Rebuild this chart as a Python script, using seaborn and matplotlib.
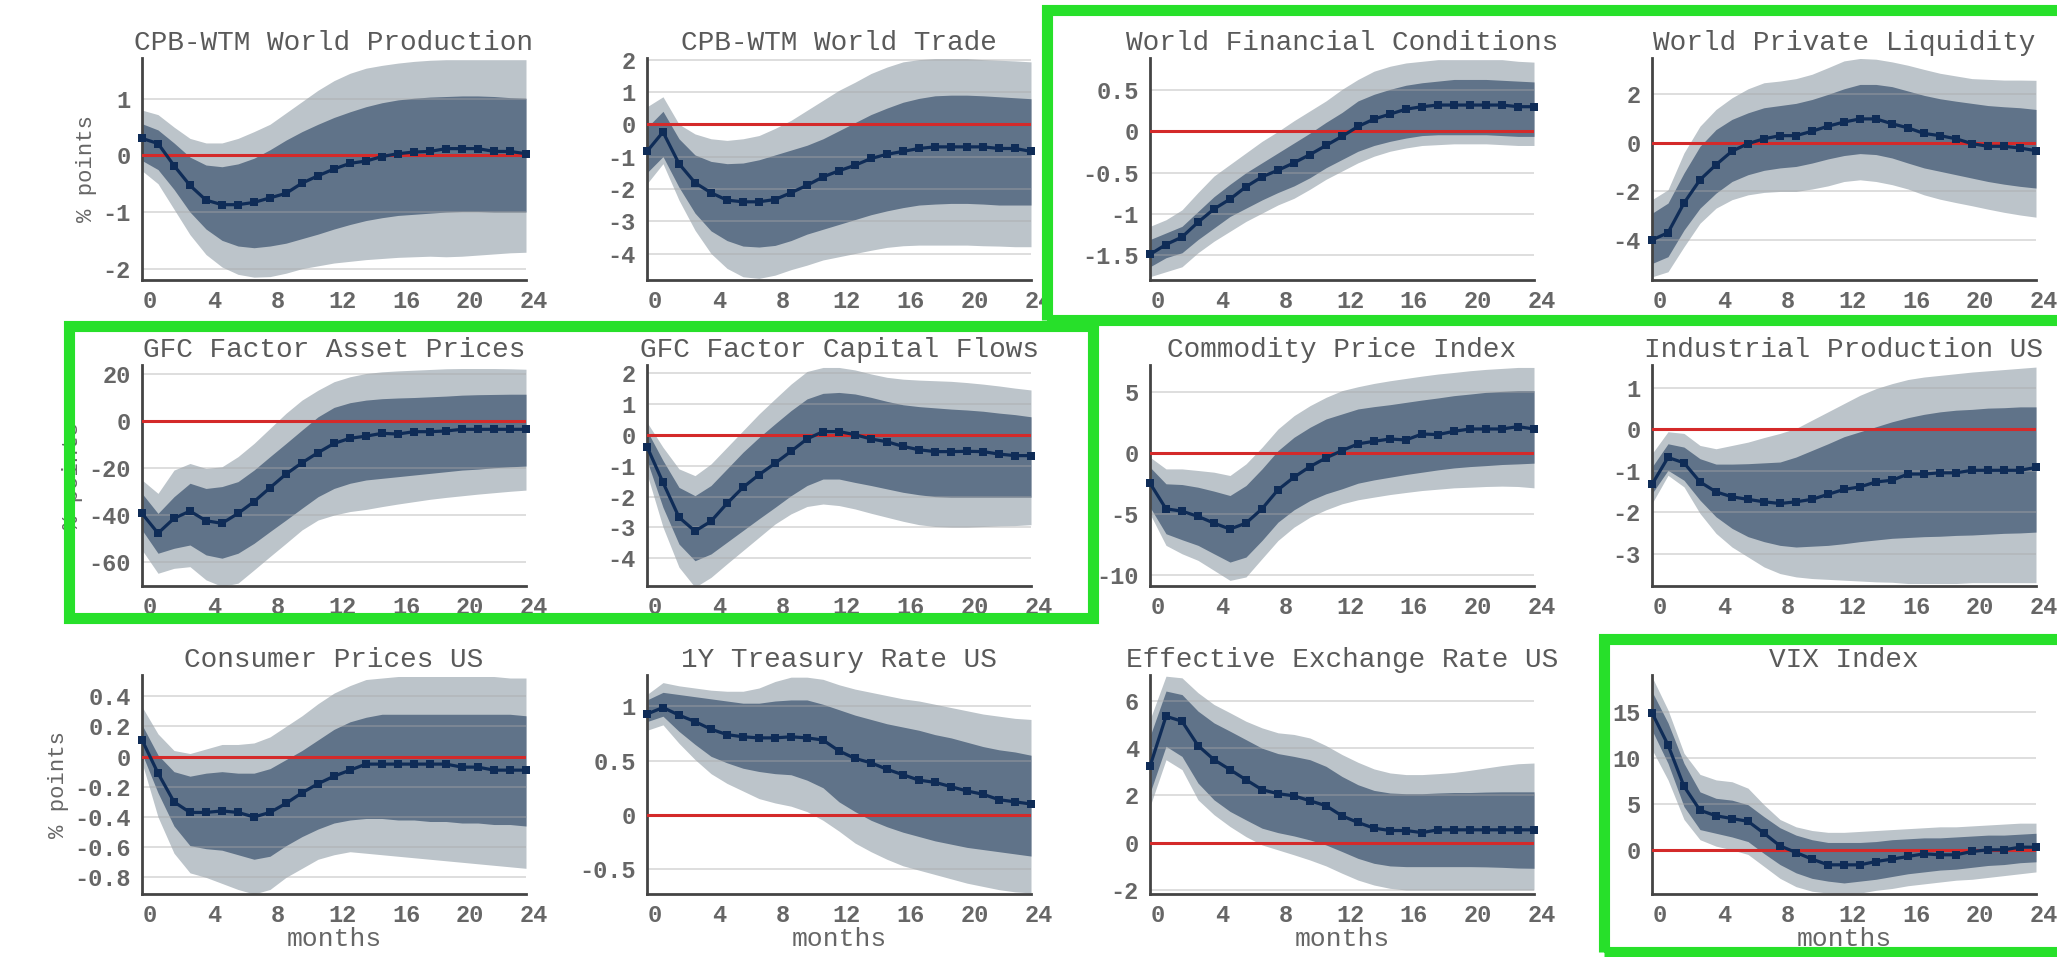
import matplotlib
matplotlib.use("Agg")
import matplotlib.pyplot as plt
from matplotlib.patches import Rectangle
from matplotlib.ticker import FuncFormatter, FixedLocator
from matplotlib.transforms import ScaledTranslation
import seaborn as sns

# ---------------------------------------------------------------------------
# Impulse responses (median, 68% and 90% credible bands), horizon 0..24 months
# ---------------------------------------------------------------------------
months = list(range(25))
month_ticks = [0, 4, 8, 12, 16, 20, 24]

# CPB-WTM World Production
wprod_med = [0.30, 0.21, -0.18, -0.53, -0.79, -0.87, -0.87, -0.83, -0.75, -0.67, -0.49, -0.36, -0.24, -0.14, -0.10, -0.02, 0.03, 0.06, 0.07, 0.12, 0.12, 0.12, 0.07, 0.07, 0.03]
wprod_hi68 = [0.56, 0.45, 0.22, -0.03, -0.17, -0.20, -0.15, -0.05, 0.10, 0.27, 0.42, 0.55, 0.67, 0.77, 0.86, 0.93, 0.98, 1.01, 1.03, 1.04, 1.05, 1.05, 1.04, 1.02, 1.01]
wprod_lo68 = [-0.09, -0.25, -0.60, -1.00, -1.30, -1.50, -1.60, -1.63, -1.60, -1.55, -1.47, -1.39, -1.30, -1.22, -1.15, -1.10, -1.06, -1.04, -1.02, -1.00, -0.99, -0.99, -1.00, -1.00, -1.00]
wprod_hi90 = [0.80, 0.72, 0.50, 0.30, 0.22, 0.22, 0.30, 0.42, 0.55, 0.75, 0.95, 1.15, 1.32, 1.45, 1.54, 1.59, 1.63, 1.66, 1.68, 1.69, 1.69, 1.69, 1.69, 1.69, 1.69]
wprod_lo90 = [-0.27, -0.50, -0.95, -1.40, -1.75, -1.97, -2.10, -2.15, -2.14, -2.08, -2.00, -1.95, -1.90, -1.87, -1.84, -1.82, -1.80, -1.79, -1.78, -1.79, -1.78, -1.76, -1.74, -1.72, -1.71]

# CPB-WTM World Trade
wtrade_med = [-0.84, -0.24, -1.22, -1.81, -2.12, -2.35, -2.40, -2.40, -2.33, -2.12, -1.89, -1.63, -1.44, -1.27, -1.06, -0.93, -0.84, -0.75, -0.70, -0.70, -0.70, -0.70, -0.75, -0.75, -0.84]
wtrade_hi68 = [-0.10, 0.40, -0.45, -0.95, -1.15, -1.22, -1.20, -1.10, -0.95, -0.80, -0.65, -0.45, -0.20, 0.05, 0.30, 0.50, 0.68, 0.80, 0.88, 0.90, 0.90, 0.88, 0.85, 0.82, 0.79]
wtrade_lo68 = [-1.50, -1.00, -1.95, -2.75, -3.30, -3.60, -3.77, -3.80, -3.75, -3.60, -3.40, -3.25, -3.10, -2.95, -2.80, -2.68, -2.58, -2.50, -2.47, -2.45, -2.45, -2.47, -2.50, -2.50, -2.50]
wtrade_hi90 = [0.54, 0.85, 0.00, -0.30, -0.45, -0.50, -0.45, -0.35, -0.13, 0.12, 0.43, 0.74, 1.05, 1.30, 1.57, 1.77, 1.93, 2.00, 2.03, 2.03, 2.03, 2.00, 1.98, 1.96, 1.93]
wtrade_lo90 = [-1.84, -1.22, -2.35, -3.28, -4.00, -4.46, -4.72, -4.77, -4.67, -4.50, -4.36, -4.20, -4.10, -4.00, -3.90, -3.81, -3.76, -3.74, -3.74, -3.74, -3.74, -3.76, -3.77, -3.79, -3.79]

# World Financial Conditions
wfc_med = [-1.49, -1.37, -1.28, -1.10, -0.94, -0.82, -0.67, -0.55, -0.47, -0.38, -0.28, -0.17, -0.06, 0.06, 0.15, 0.21, 0.27, 0.30, 0.32, 0.32, 0.32, 0.32, 0.32, 0.30, 0.30]
wfc_hi68 = [-1.31, -1.23, -1.15, -0.97, -0.79, -0.64, -0.50, -0.38, -0.26, -0.14, -0.02, 0.11, 0.23, 0.37, 0.45, 0.51, 0.56, 0.59, 0.61, 0.63, 0.63, 0.63, 0.62, 0.61, 0.60]
wfc_lo68 = [-1.64, -1.53, -1.47, -1.31, -1.17, -1.03, -0.93, -0.83, -0.74, -0.66, -0.56, -0.44, -0.34, -0.24, -0.17, -0.12, -0.08, -0.05, -0.04, -0.04, -0.04, -0.04, -0.05, -0.06, -0.06]
wfc_hi90 = [-1.15, -1.07, -0.95, -0.74, -0.54, -0.40, -0.26, -0.12, 0.00, 0.13, 0.25, 0.37, 0.51, 0.63, 0.73, 0.79, 0.83, 0.85, 0.87, 0.87, 0.87, 0.87, 0.87, 0.85, 0.84]
wfc_lo90 = [-1.76, -1.70, -1.64, -1.47, -1.33, -1.21, -1.09, -0.99, -0.89, -0.81, -0.70, -0.58, -0.48, -0.38, -0.30, -0.24, -0.20, -0.17, -0.16, -0.15, -0.15, -0.15, -0.16, -0.17, -0.17]

# World Private Liquidity
wpl_med = [-4.00, -3.70, -2.48, -1.52, -0.90, -0.34, -0.03, 0.17, 0.30, 0.30, 0.48, 0.69, 0.86, 0.99, 0.99, 0.79, 0.62, 0.39, 0.30, 0.17, -0.03, -0.14, -0.14, -0.21, -0.32]
wpl_hi68 = [-2.90, -2.48, -1.24, -0.14, 0.55, 0.97, 1.24, 1.45, 1.54, 1.63, 1.79, 2.00, 2.23, 2.41, 2.41, 2.32, 2.14, 1.96, 1.82, 1.72, 1.63, 1.54, 1.49, 1.45, 1.38]
wpl_lo68 = [-4.97, -4.69, -3.59, -2.69, -2.07, -1.59, -1.31, -1.13, -1.03, -0.97, -0.83, -0.66, -0.52, -0.44, -0.48, -0.62, -0.83, -1.03, -1.17, -1.31, -1.45, -1.59, -1.70, -1.79, -1.86]
wpl_hi90 = [-2.34, -1.93, -0.41, 0.69, 1.38, 1.86, 2.23, 2.48, 2.55, 2.65, 2.83, 3.10, 3.38, 3.48, 3.45, 3.34, 3.20, 3.03, 2.87, 2.76, 2.65, 2.62, 2.59, 2.59, 2.58]
wpl_lo90 = [-5.52, -5.31, -4.28, -3.31, -2.69, -2.34, -2.14, -2.04, -2.00, -2.00, -1.90, -1.77, -1.59, -1.52, -1.59, -1.72, -1.90, -2.14, -2.32, -2.46, -2.59, -2.73, -2.86, -2.97, -3.06]

# GFC Factor Asset Prices
gfca_med = [-39.2, -47.6, -41.3, -38.2, -42.3, -43.4, -39.2, -34.2, -28.3, -22.5, -17.7, -13.4, -9.5, -7.3, -6.4, -5.2, -5.5, -4.5, -4.5, -4.2, -3.5, -3.5, -3.5, -3.5, -3.5]
gfca_hi68 = [-30.7, -39.2, -32.1, -26.4, -28.6, -27.8, -25.7, -20.8, -15.1, -9.5, -3.8, 1.8, 5.8, 7.8, 8.9, 9.5, 9.8, 10.0, 10.3, 10.6, 11.0, 11.2, 11.3, 11.4, 11.4]
gfca_lo68 = [-46.2, -56.1, -54.0, -52.6, -56.8, -58.2, -56.1, -51.9, -46.9, -42.0, -37.0, -32.1, -28.6, -26.4, -25.0, -24.3, -23.6, -22.9, -22.2, -21.5, -20.8, -20.4, -19.8, -19.4, -19.1]
gfca_hi90 = [-25.0, -30.7, -20.8, -18.0, -20.1, -19.4, -15.1, -9.5, -3.1, 3.3, 8.9, 13.1, 16.7, 18.8, 20.2, 20.9, 21.3, 21.6, 21.9, 22.2, 22.3, 22.3, 22.3, 22.2, 22.0]
gfca_lo90 = [-54.7, -64.6, -62.5, -61.8, -67.4, -70.2, -68.8, -63.2, -57.5, -51.9, -46.2, -42.0, -39.9, -38.4, -37.5, -36.3, -35.2, -34.2, -33.2, -32.4, -31.7, -31.0, -30.4, -29.8, -29.3]

# GFC Factor Capital Flows
gfcc_med = [-0.38, -1.54, -2.67, -3.12, -2.80, -2.22, -1.70, -1.29, -0.92, -0.53, -0.13, 0.11, 0.11, 0.01, -0.13, -0.22, -0.37, -0.48, -0.54, -0.54, -0.53, -0.54, -0.62, -0.67, -0.67]
gfcc_hi68 = [0.14, -0.83, -1.70, -1.97, -1.64, -1.10, -0.56, -0.08, 0.36, 0.79, 1.17, 1.35, 1.38, 1.33, 1.22, 1.09, 0.98, 0.92, 0.88, 0.84, 0.81, 0.77, 0.71, 0.66, 0.59]
gfcc_lo68 = [-0.83, -2.35, -3.54, -4.08, -3.86, -3.48, -3.10, -2.72, -2.35, -1.97, -1.64, -1.43, -1.43, -1.54, -1.64, -1.75, -1.86, -1.94, -2.00, -2.02, -2.02, -2.02, -2.02, -2.02, -2.02]
gfcc_hi90 = [0.41, -0.40, -1.10, -1.32, -0.94, -0.40, 0.14, 0.68, 1.17, 1.65, 2.06, 2.19, 2.19, 2.11, 1.98, 1.87, 1.81, 1.78, 1.76, 1.74, 1.70, 1.65, 1.59, 1.52, 1.46]
gfcc_lo90 = [-1.26, -2.99, -4.29, -4.94, -4.62, -4.18, -3.75, -3.32, -2.89, -2.56, -2.32, -2.24, -2.29, -2.40, -2.54, -2.67, -2.80, -2.91, -2.97, -2.99, -2.99, -2.97, -2.95, -2.94, -2.91]

# Commodity Price Index
comm_med = [-2.48, -4.58, -4.77, -5.20, -5.75, -6.24, -5.75, -4.58, -3.02, -1.99, -1.12, -0.41, 0.19, 0.74, 0.95, 1.14, 1.06, 1.55, 1.50, 1.77, 1.96, 1.96, 1.96, 2.15, 1.96]
comm_hi68 = [-1.17, -2.53, -2.59, -2.81, -3.13, -3.49, -2.67, -1.31, 0.19, 1.28, 2.10, 2.78, 3.19, 3.60, 3.79, 3.95, 4.14, 4.33, 4.50, 4.69, 4.82, 4.96, 5.04, 5.10, 5.10]
comm_lo68 = [-4.44, -6.62, -7.11, -7.57, -8.26, -8.94, -8.53, -7.17, -5.67, -4.66, -3.90, -3.35, -2.94, -2.48, -2.21, -1.99, -1.77, -1.58, -1.39, -1.23, -1.12, -1.04, -0.95, -0.90, -0.84]
comm_hi90 = [-0.35, -1.31, -1.31, -1.44, -1.58, -1.85, -0.90, 0.46, 1.96, 3.05, 3.87, 4.55, 5.10, 5.42, 5.69, 5.91, 6.10, 6.29, 6.46, 6.59, 6.73, 6.84, 6.92, 7.00, 7.00]
comm_lo90 = [-4.99, -7.57, -8.26, -8.80, -9.62, -10.44, -10.16, -8.66, -7.17, -6.08, -5.26, -4.66, -4.17, -3.84, -3.62, -3.41, -3.24, -3.08, -2.97, -2.86, -2.81, -2.75, -2.72, -2.75, -2.86]

# Industrial Production US
ipus_med = [-1.33, -0.68, -0.81, -1.27, -1.51, -1.63, -1.69, -1.75, -1.79, -1.75, -1.69, -1.57, -1.45, -1.39, -1.27, -1.23, -1.08, -1.08, -1.05, -1.05, -0.99, -0.99, -0.99, -0.99, -0.92]
ipus_hi68 = [-0.91, -0.35, -0.43, -0.71, -0.84, -0.84, -0.83, -0.81, -0.79, -0.67, -0.51, -0.35, -0.18, -0.06, 0.06, 0.18, 0.28, 0.36, 0.42, 0.46, 0.48, 0.51, 0.52, 0.54, 0.54]
ipus_lo68 = [-1.55, -0.99, -1.23, -1.71, -2.11, -2.39, -2.59, -2.71, -2.80, -2.84, -2.82, -2.80, -2.76, -2.71, -2.67, -2.63, -2.61, -2.59, -2.58, -2.56, -2.55, -2.53, -2.51, -2.50, -2.48]
ipus_hi90 = [-0.59, -0.06, -0.10, -0.39, -0.47, -0.39, -0.31, -0.20, -0.10, 0.02, 0.22, 0.42, 0.62, 0.82, 0.98, 1.10, 1.20, 1.26, 1.30, 1.34, 1.38, 1.41, 1.44, 1.47, 1.50]
ipus_lo90 = [-1.79, -1.11, -1.39, -2.03, -2.51, -2.84, -3.08, -3.32, -3.48, -3.56, -3.60, -3.62, -3.64, -3.66, -3.68, -3.69, -3.72, -3.72, -3.72, -3.72, -3.70, -3.70, -3.70, -3.70, -3.70]

# Consumer Prices US
cpus_med = [0.11, -0.11, -0.30, -0.37, -0.37, -0.36, -0.37, -0.40, -0.37, -0.31, -0.24, -0.18, -0.13, -0.09, -0.05, -0.05, -0.05, -0.05, -0.05, -0.05, -0.07, -0.07, -0.09, -0.09, -0.09]
cpus_hi68 = [0.21, 0.01, -0.10, -0.13, -0.11, -0.10, -0.11, -0.11, -0.08, -0.02, 0.04, 0.11, 0.18, 0.23, 0.26, 0.28, 0.28, 0.28, 0.28, 0.28, 0.28, 0.28, 0.28, 0.28, 0.27]
cpus_lo68 = [0.02, -0.24, -0.46, -0.59, -0.61, -0.62, -0.65, -0.68, -0.66, -0.59, -0.53, -0.48, -0.44, -0.42, -0.41, -0.41, -0.42, -0.42, -0.43, -0.43, -0.44, -0.44, -0.45, -0.45, -0.46]
cpus_hi90 = [0.33, 0.15, 0.04, 0.02, 0.05, 0.08, 0.08, 0.09, 0.13, 0.20, 0.27, 0.35, 0.42, 0.47, 0.51, 0.52, 0.53, 0.53, 0.53, 0.53, 0.53, 0.53, 0.53, 0.52, 0.52]
cpus_lo90 = [-0.04, -0.40, -0.64, -0.77, -0.80, -0.84, -0.88, -0.91, -0.88, -0.80, -0.74, -0.68, -0.65, -0.63, -0.64, -0.65, -0.66, -0.67, -0.68, -0.69, -0.70, -0.71, -0.72, -0.73, -0.74]

# 1Y Treasury Rate US
ty1_med = [0.93, 0.99, 0.92, 0.86, 0.79, 0.74, 0.72, 0.71, 0.71, 0.72, 0.71, 0.69, 0.59, 0.52, 0.48, 0.42, 0.37, 0.32, 0.30, 0.26, 0.22, 0.19, 0.14, 0.12, 0.10]
ty1_hi68 = [1.06, 1.13, 1.11, 1.09, 1.07, 1.05, 1.03, 1.03, 1.05, 1.06, 1.06, 1.02, 0.97, 0.92, 0.88, 0.84, 0.81, 0.78, 0.74, 0.71, 0.67, 0.63, 0.60, 0.58, 0.55]
ty1_lo68 = [0.86, 0.91, 0.77, 0.65, 0.54, 0.48, 0.43, 0.40, 0.38, 0.37, 0.32, 0.25, 0.12, 0.03, -0.05, -0.11, -0.16, -0.20, -0.24, -0.27, -0.30, -0.32, -0.34, -0.36, -0.38]
ty1_hi90 = [1.11, 1.22, 1.19, 1.17, 1.15, 1.14, 1.14, 1.17, 1.23, 1.27, 1.27, 1.25, 1.20, 1.16, 1.13, 1.10, 1.07, 1.05, 1.02, 0.99, 0.96, 0.93, 0.91, 0.89, 0.88]
ty1_lo90 = [0.78, 0.83, 0.66, 0.51, 0.38, 0.29, 0.22, 0.15, 0.11, 0.08, 0.03, -0.05, -0.15, -0.26, -0.34, -0.41, -0.47, -0.51, -0.55, -0.59, -0.63, -0.66, -0.69, -0.71, -0.72]

# Effective Exchange Rate US
eer_med = [3.23, 5.35, 5.14, 4.11, 3.51, 3.09, 2.66, 2.24, 2.07, 1.98, 1.77, 1.56, 1.13, 0.85, 0.61, 0.51, 0.51, 0.42, 0.54, 0.54, 0.54, 0.54, 0.54, 0.54, 0.54]
eer_hi68 = [4.50, 6.42, 6.27, 5.57, 5.07, 4.72, 4.36, 4.00, 3.77, 3.65, 3.51, 3.23, 2.80, 2.45, 2.21, 2.10, 2.07, 2.07, 2.10, 2.12, 2.12, 2.14, 2.15, 2.15, 2.15]
eer_lo68 = [2.10, 4.08, 3.65, 2.52, 1.81, 1.32, 0.96, 0.61, 0.42, 0.28, 0.11, -0.10, -0.38, -0.67, -0.88, -0.99, -1.02, -1.02, -1.02, -1.02, -1.02, -1.03, -1.05, -1.08, -1.09]
eer_hi90 = [5.21, 7.05, 6.98, 6.35, 5.85, 5.50, 5.14, 4.86, 4.65, 4.58, 4.43, 4.11, 3.73, 3.40, 3.12, 2.95, 2.88, 2.88, 2.92, 2.97, 3.06, 3.16, 3.26, 3.34, 3.37]
eer_lo90 = [1.53, 3.51, 3.09, 1.81, 1.18, 0.68, 0.25, -0.10, -0.31, -0.52, -0.74, -0.99, -1.30, -1.59, -1.80, -1.94, -2.01, -2.01, -2.01, -2.01, -2.01, -2.01, -2.01, -2.01, -2.01]

# VIX Index
vix_med = [14.9, 11.4, 6.9, 4.3, 3.7, 3.4, 3.1, 1.8, 0.43, -0.29, -1.01, -1.63, -1.63, -1.63, -1.27, -1.01, -0.72, -0.43, -0.54, -0.54, -0.18, 0.0, 0.0, 0.29, 0.29]
vix_hi68 = [17.2, 13.8, 9.4, 6.3, 5.6, 5.4, 4.9, 3.6, 2.4, 1.6, 1.1, 0.8, 0.8, 0.8, 0.9, 1.1, 1.2, 1.3, 1.3, 1.4, 1.5, 1.6, 1.6, 1.7, 1.8]
vix_lo68 = [13.0, 9.4, 4.7, 2.2, 1.8, 1.4, 0.9, -0.4, -1.6, -2.5, -3.1, -3.4, -3.6, -3.4, -3.2, -2.9, -2.6, -2.4, -2.2, -2.1, -1.9, -1.7, -1.6, -1.4, -1.3]
vix_hi90 = [18.8, 15.2, 10.5, 8.2, 7.6, 7.4, 6.7, 4.9, 3.3, 2.5, 2.1, 1.9, 1.9, 2.0, 2.1, 2.2, 2.3, 2.4, 2.5, 2.5, 2.6, 2.7, 2.8, 2.9, 2.9]
vix_lo90 = [10.9, 7.6, 3.3, 1.1, 0.4, 0.0, -0.5, -1.8, -3.1, -4.0, -4.5, -4.7, -4.8, -4.7, -4.4, -4.2, -3.9, -3.7, -3.5, -3.3, -3.2, -3.0, -2.8, -2.6, -2.4]

titles = [
    "CPB-WTM World Production", "CPB-WTM World Trade",
    "World Financial Conditions", "World Private Liquidity",
    "GFC Factor Asset Prices", "GFC Factor Capital Flows",
    "Commodity Price Index", "Industrial Production US",
    "Consumer Prices US", "1Y Treasury Rate US",
    "Effective Exchange Rate US", "VIX Index",
]
y_ticks = [
    [-2, -1, 0, 1], [-4, -3, -2, -1, 0, 1, 2],
    [-1.5, -1, -0.5, 0, 0.5], [-4, -2, 0, 2],
    [-60, -40, -20, 0, 20], [-4, -3, -2, -1, 0, 1, 2],
    [-10, -5, 0, 5], [-3, -2, -1, 0, 1],
    [-0.8, -0.6, -0.4, -0.2, 0, 0.2, 0.4], [-0.5, 0, 0.5, 1],
    [-2, 0, 2, 4, 6], [0, 5, 10, 15],
]
y_limits = [
    (-2.2, 1.72), (-4.82, 2.05), (-1.8, 0.89), (-5.65, 3.5),
    (-70, 23.8), (-4.9, 2.27), (-10.9, 7.2), (-3.78, 1.55),
    (-0.91, 0.54), (-0.73, 1.29), (-2.18, 7.1), (-4.8, 19.0),
]
series = [
    (wprod_med, wprod_lo68, wprod_hi68, wprod_lo90, wprod_hi90),
    (wtrade_med, wtrade_lo68, wtrade_hi68, wtrade_lo90, wtrade_hi90),
    (wfc_med, wfc_lo68, wfc_hi68, wfc_lo90, wfc_hi90),
    (wpl_med, wpl_lo68, wpl_hi68, wpl_lo90, wpl_hi90),
    (gfca_med, gfca_lo68, gfca_hi68, gfca_lo90, gfca_hi90),
    (gfcc_med, gfcc_lo68, gfcc_hi68, gfcc_lo90, gfcc_hi90),
    (comm_med, comm_lo68, comm_hi68, comm_lo90, comm_hi90),
    (ipus_med, ipus_lo68, ipus_hi68, ipus_lo90, ipus_hi90),
    (cpus_med, cpus_lo68, cpus_hi68, cpus_lo90, cpus_hi90),
    (ty1_med, ty1_lo68, ty1_hi68, ty1_lo90, ty1_hi90),
    (eer_med, eer_lo68, eer_hi68, eer_lo90, eer_hi90),
    (vix_med, vix_lo68, vix_hi68, vix_lo90, vix_hi90),
]

# ---------------------------------------------------------------------------
# Styling
# ---------------------------------------------------------------------------
sns.set_theme(style="white")
plt.rcParams["font.family"] = ["Liberation Mono", "DejaVu Sans Mono"]
plt.rcParams["font.weight"] = "bold"

BAND90 = "#bcc4ca"
BAND68 = "#607389"
MEDIAN = "#0f2c57"
ZERO = "#d42a2a"
GRID = "#a8a8a8"
AXIS = "#444444"
TEXT = "#666666"
HILITE = "#27e02a"

W, H = 2057, 957
fig = plt.figure(figsize=(W / 100, H / 100), dpi=100)

col_left_px = [142, 647, 1150, 1652]
row_top_px = [58, 365, 675]
row_bot_px = [280, 586, 894]
ax_w_px = 384

fmt = FuncFormatter(lambda v, p: f"{v:g}")
xshift = ScaledTranslation(8 / 100, 0, fig.dpi_scale_trans)

for i, (title, ticks, ylim, data) in enumerate(zip(titles, y_ticks, y_limits, series)):
    r, c = divmod(i, 4)
    left = col_left_px[c] / W
    bottom = 1 - row_bot_px[r] / H
    height = (row_bot_px[r] - row_top_px[r]) / H
    ax = fig.add_axes([left, bottom, ax_w_px / W, height])
    med, lo68, hi68, lo90, hi90 = data

    ax.fill_between(months, lo90, hi90, color=BAND90, lw=0, zorder=1)
    ax.fill_between(months, lo68, hi68, color=BAND68, lw=0, zorder=2)
    ax.hlines(ticks, 0, 24, color=GRID, lw=1.2, alpha=0.45, zorder=2.5)
    ax.plot([0, 24], [0, 0], color=ZERO, lw=2.2, zorder=3)
    sns.lineplot(x=months, y=med, ax=ax, color=MEDIAN, lw=2.3, marker="s",
                 markersize=5.5, markeredgewidth=0, zorder=5, clip_on=False)

    ax.set_xlim(0, 24)
    ax.set_ylim(*ylim)
    ax.xaxis.set_major_locator(FixedLocator(month_ticks))
    ax.yaxis.set_major_locator(FixedLocator(ticks))
    ax.yaxis.set_major_formatter(fmt)
    ax.grid(False)
    for side in ("top", "right"):
        ax.spines[side].set_visible(False)
    for side in ("left", "bottom"):
        ax.spines[side].set_color(AXIS)
        ax.spines[side].set_linewidth(2.0)
    ax.tick_params(axis="both", direction="in", length=4, width=1.6,
                   color=AXIS, labelcolor=TEXT, labelsize=17)
    ax.tick_params(axis="y", pad=8)
    ax.tick_params(axis="x", pad=7)
    for lab in ax.get_xticklabels():
        lab.set_transform(lab.get_transform() + xshift)

    ax.set_title(title, fontsize=20, color="#5a5a5a", pad=6)
    if c == 0:
        ax.set_ylabel("% points", fontsize=16, color=TEXT)
    if r == 2:
        ax.set_xlabel("months", fontsize=19, color=TEXT, labelpad=0)

# highlight frames around selected panels
frames_px = [
    (1047, 10, 2070, 320),
    (69, 326, 1093, 618),
    (1604, 639, 2070, 952),
]
for x0, y0, x1, y1 in frames_px:
    fig.add_artist(Rectangle((x0 / W, 1 - y1 / H), (x1 - x0) / W, (y1 - y0) / H,
                             transform=fig.transFigure, fill=False,
                             edgecolor=HILITE, lw=8, zorder=20))

fig.savefig("out.png", dpi=100, facecolor="white")
